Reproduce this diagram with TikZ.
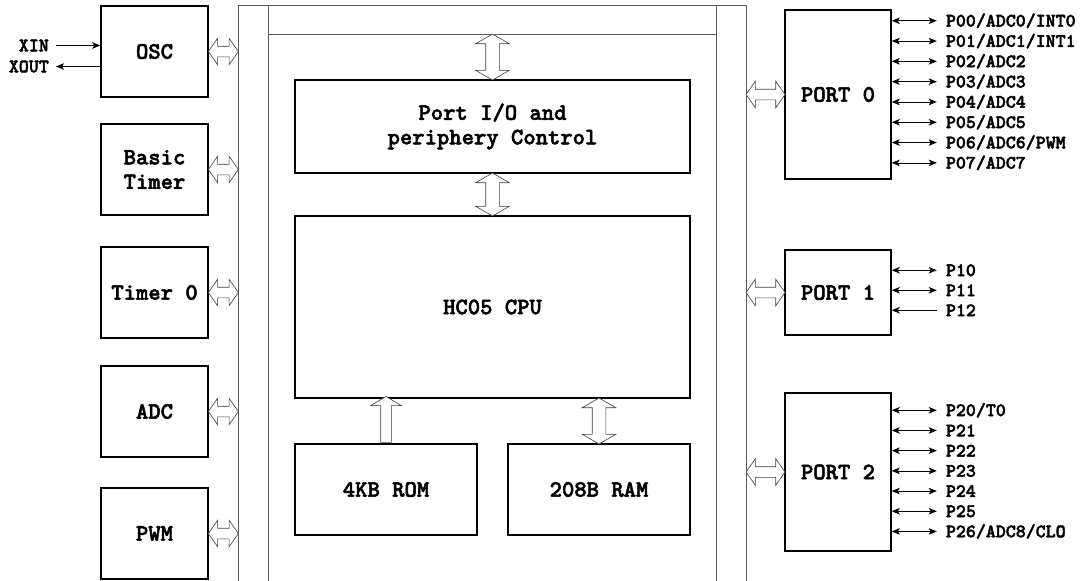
\documentclass[tikz,border=0pt]{standalone}
\usepackage{fontspec}
\newfontfamily\cour{lmmonolt10-bold.otf}[FakeBold=2.2]
\usetikzlibrary{shapes.arrows,calc,arrows.meta}

\newcommand{\boxfont}{\cour\fontsize{23.5}{24.5}\selectfont}
\newcommand{\pinfont}{\cour\fontsize{19}{20}\selectfont}

\tikzset{
  blk/.style={draw, line width=1.5pt, fill=white, align=center, font=\boxfont},
  bus/.style={draw=black!65, line width=0.8pt},
  hbus/.style={double arrow, draw=black!75, fill=white, line width=0.6pt,
    inner sep=5pt, double arrow head extend=8pt, double arrow tip angle=110,
    minimum height=#1},
  vbus/.style={hbus=#1, rotate=90, inner sep=6.5pt, double arrow head extend=10pt,
    double arrow tip angle=120},
  ubus/.style={single arrow, draw=black!75, fill=white, line width=0.6pt,
    inner sep=5pt, single arrow head extend=10pt, single arrow tip angle=118,
    minimum height=#1, rotate=90},
  tip/.tip={Stealth[length=8pt,width=6.5pt,inset=2pt]},
  pin/.style={tip-tip, line width=0.7pt},
  pinin/.style={tip-, line width=0.7pt},
  pinlab/.style={anchor=west, font=\pinfont, inner sep=0pt},
}

\begin{document}
\begin{tikzpicture}[x=1pt,y=-1pt]
\useasboundingbox (0,0) rectangle (1080,581);
\clip (0,0) rectangle (1080,581);

% internal bus
\node[bus, minimum width=30pt, minimum height=600pt, anchor=north west] (busL) at (238,5) {};
\node[bus, minimum width=30pt, minimum height=600pt, anchor=north west] (busR) at (716,5) {};
\node[bus, minimum width=448pt, minimum height=29pt, anchor=north west] (busT) at (268,5) {};

% peripherals on the left
\node[blk, minimum width=107pt, minimum height=91pt] (osc) at (154.5,51.5) {OSC};
\node[blk, minimum width=107pt, minimum height=91pt] (bt) at (154.5,169.5) {Basic\\Timer};
\node[blk, minimum width=107pt, minimum height=91pt] (tmr) at (154.5,292.5) {Timer 0};
\node[blk, minimum width=107pt, minimum height=91pt] (adc) at (154.5,411.5) {ADC};
\node[blk, minimum width=107pt, minimum height=91pt] (pwm) at (154.5,533.5) {PWM};

\foreach \b in {osc,bt,tmr,adc,pwm}
  \node[hbus=30pt] (a\b) at ($(\b.east)!0.5!(\b.east -| busL.west)$) {};

% clock pins
\coordinate (xin) at (56,45.5);
\coordinate (xout) at (56,66.5);
\draw[-tip, line width=0.7pt] (xin) -- (xin -| osc.west);
\draw[-tip, line width=0.7pt] (xout -| osc.west) -- (xout);
\node[anchor=east, font=\pinfont, inner sep=0pt] (xinlab) at (49,45.5) {XIN};
\node[anchor=east, font=\pinfont, inner sep=0pt] (xoutlab) at (49,66.5) {XOUT};

% core
\node[blk, minimum width=395pt, minimum height=93pt] (pio) at (492.5,126.5) {Port I/O and\\periphery Control};
\node[blk, minimum width=395pt, minimum height=182pt] (cpu) at (492.5,307) {HC05 CPU};
\node[blk, minimum width=182pt, minimum height=91pt] (rom) at (386,489.5) {4KB ROM};
\node[blk, minimum width=182pt, minimum height=91pt] (ram) at (599,489.5) {208B RAM};

\node[vbus=46pt] (atop) at ($(busT.south -| pio.north)!0.5!(pio.north)$) {};
\node[vbus=43pt] (apio) at ($(pio.south)!0.5!(cpu.north)$) {};
\node[ubus=46pt] (arom) at ($(rom.north)!0.5!(rom.north |- cpu.south)$) {};
\node[vbus=46pt] (aram) at ($(ram.north)!0.5!(ram.north |- cpu.south)$) {};

% ports on the right
\node[blk, minimum width=106pt, minimum height=169pt] (port0) at (838,94.5) {PORT 0};
\node[blk, minimum width=106pt, minimum height=85pt] (port1) at (838,292.5) {PORT 1};
\node[blk, minimum width=106pt, minimum height=158pt] (port2) at (838,472) {PORT 2};

\foreach \p in {port0,port1,port2}
  \node[hbus=39pt] (a\p) at ($(\p.west)!0.5!(\p.west -| busR.east)$) {};

% port pins
\foreach \lab [count=\i from 0] in {P00/ADC0/INT0,P01/ADC1/INT1,P02/ADC2,P03/ADC3,P04/ADC4,P05/ADC5,P06/ADC6/PWM,P07/ADC7} {
  \coordinate (q0\i) at ($(port0.north east)+(0,11.5+20.3*\i)$);
  \draw[pin] (q0\i) -- ++(45,0) coordinate (e0\i);
  \node[pinlab] (l0\i) at ($(e0\i)+(9,0)$) {\lab};
}
\foreach \lab [count=\i from 0] in {P10,P11} {
  \coordinate (q1\i) at ($(port1.north east)+(0,21+20*\i)$);
  \draw[pin] (q1\i) -- ++(45,0) coordinate (e1\i);
  \node[pinlab] (l1\i) at ($(e1\i)+(9,0)$) {\lab};
}
\coordinate (q12) at ($(port1.north east)+(0,61)$);
\draw[pinin] (q12) -- ++(45,0) coordinate (e12);
\node[pinlab] (l12) at ($(e12)+(9,0)$) {P12};
\foreach \lab [count=\i from 0] in {P20/T0,P21,P22,P23,P24,P25,P26/ADC8/CLO} {
  \coordinate (q2\i) at ($(port2.north east)+(0,18+20.2*\i)$);
  \draw[pin] (q2\i) -- ++(45,0) coordinate (e2\i);
  \node[pinlab] (l2\i) at ($(e2\i)+(9,0)$) {\lab};
}
\end{tikzpicture}
\end{document}
